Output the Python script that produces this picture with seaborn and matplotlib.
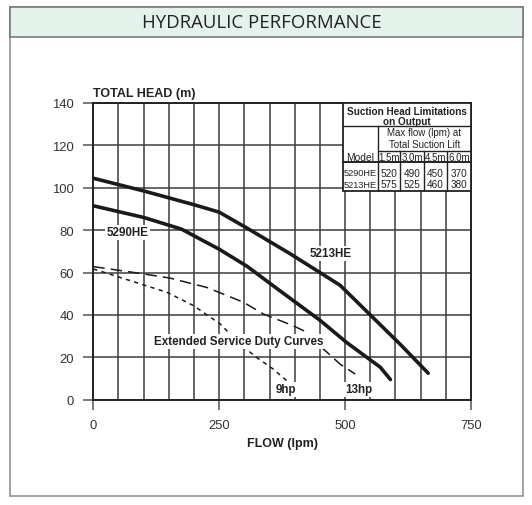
import numpy as np
import pandas as pd
import matplotlib
matplotlib.use("Agg")
import matplotlib.pyplot as plt
import seaborn as sns
from matplotlib.patches import Rectangle
from matplotlib.lines import Line2D
from matplotlib.ticker import MultipleLocator

# pump curves (flow lpm, head m)
flow_5213 = [0, 100, 200, 250, 305, 390, 450, 490, 550, 610, 665]
head_5213 = [104.5, 98.5, 92, 88.5, 81, 69, 60, 54, 40, 26, 12.5]

flow_5290 = [0, 100, 175, 250, 305, 370, 450, 503, 570, 590]
head_5290 = [91.5, 86, 80.5, 71, 63, 51.5, 37.5, 27, 15.3, 9.5]

flow_13hp = [0, 93, 152, 225, 298, 338, 397, 424, 457, 490, 520]
head_13hp = [62.8, 59.6, 57.4, 53, 46, 40.4, 34.9, 31.8, 23.9, 16.8, 12.1]

flow_9hp = [0, 73, 146, 199, 252, 291, 324, 357, 384]
head_9hp = [61.7, 56.2, 50.7, 44.4, 35.7, 26.3, 20, 14.5, 9]

x_ticks = [0, 250, 500, 750]
y_ticks = [0, 20, 40, 60, 80, 100, 120, 140]

# suction head table
table_models = ['5290HE', '5213HE']
table_lifts = ['1.5m', '3.0m', '4.5m', '6.0m']
table_flows = [[520, 490, 450, 370],
               [575, 525, 460, 380]]

W, H = 532, 506


def px(x, y):
    return x / W, 1 - y / H


sns.set_theme(style="white")
plt.rcParams['font.family'] = ['Liberation Sans', 'DejaVu Sans']

fig = plt.figure(figsize=(W / 100, H / 100), dpi=100)
fig.patch.set_facecolor('white')

# outer box and title band
fig.add_artist(Rectangle(px(10, 497), 513 / W, 489 / H, transform=fig.transFigure,
                         fill=False, ec='#8a8a8a', lw=1.1, zorder=0))
fig.add_artist(Rectangle(px(10, 38), 513 / W, 30 / H, transform=fig.transFigure,
                         fc='#e4f2ec', ec='#707070', lw=1.1, zorder=0))
fig.text(*px(262, 23), 'HYDRAULIC PERFORMANCE', ha='center', va='center',
         fontsize=13.4, family='Open Sans', color='#222222')

left, right, top, bottom = 93.3, 471, 104, 400.7
ax = fig.add_axes([left / W, 1 - bottom / H, (right - left) / W, (bottom - top) / H])

line_col = '#1a1a1a'
sns.lineplot(x=flow_5213, y=head_5213, ax=ax, color=line_col, lw=2.6, zorder=3)
sns.lineplot(x=flow_5290, y=head_5290, ax=ax, color=line_col, lw=2.6, zorder=3)
sns.lineplot(x=flow_13hp, y=head_13hp, ax=ax, color=line_col, lw=1.1,
             linestyle=(0, (7.5, 4)), zorder=3)
sns.lineplot(x=flow_9hp, y=head_9hp, ax=ax, color=line_col, lw=1.1,
             linestyle=(0, (2.8, 2.8)), zorder=3)

ax.set_xlim(0, 750)
ax.set_ylim(0, 140)
ax.xaxis.set_minor_locator(MultipleLocator(50))
ax.set_xticks(x_ticks)
ax.set_yticks(y_ticks)
ax.grid(True, which='both', color='#3c3c3c', lw=1.1)
ax.set_axisbelow(True)
ax.tick_params(which='major', length=7, width=1.1, color='#555555', pad=7,
               labelsize=9.4, labelcolor='#333333', left=True, bottom=True)
ax.tick_params(which='minor', length=0)
for s in ax.spines.values():
    s.set_color('#222222')
    s.set_linewidth(1.4)

lab = dict(fontsize=8.4, fontweight='bold', color='#222222', ha='center', va='center', zorder=4,
           bbox=dict(facecolor='white', edgecolor='none', pad=1.0))
ax.text(68, 79, '5290HE', **lab)
ax.text(472, 69, '5213HE', **lab)
ax.text(288, 27.6, 'Extended Service Duty Curves', **lab)
ax.text(383, 5, '9hp', **lab)
ax.text(528, 5, '13hp', **lab)

ax.text(0, 1 + (top - 94.3) / (bottom - top), 'TOTAL HEAD (m)', transform=ax.transAxes,
        ha='left', va='center', fontsize=9, fontweight='bold', color='#222222')
ax.set_xlabel('FLOW (lpm)', fontsize=9, fontweight='bold', color='#222222', labelpad=4)

# table in the top right corner
tl, tr, tt, tb = 343.3, 471, 104, 192
fig.add_artist(Rectangle(px(tl, tb), (tr - tl) / W, (tb - tt) / H, transform=fig.transFigure,
                         fc='white', ec='#222222', lw=1.3, zorder=5))
cols = [377.7, 400, 424.3, 446.7, 471]


def hline(y, x0, x1, lw=1.0):
    a, b = px(x0, y)
    c, d = px(x1, y)
    fig.add_artist(Line2D([a, c], [b, d], transform=fig.transFigure, color='#222222', lw=lw, zorder=6))


def vline(x, y0, y1, lw=1.0):
    a, b = px(x, y0)
    c, d = px(x, y1)
    fig.add_artist(Line2D([a, c], [b, d], transform=fig.transFigure, color='#222222', lw=lw, zorder=6))


hline(127.3, tl, tr)
hline(152.3, cols[0], tr)
hline(163.3, tl, tr, lw=1.4)
vline(cols[0], 127.3, tb)
for c in cols[1:4]:
    vline(c, 152.3, tb)

tt_kw = dict(ha='center', va='center', color='#222222', zorder=7)
fig.text(*px((tl + tr) / 2, 112), 'Suction Head Limitations', fontsize=7.2, fontweight='bold', **tt_kw)
fig.text(*px((tl + tr) / 2, 122), 'on Output', fontsize=7.2, fontweight='bold', **tt_kw)
fig.text(*px((cols[0] + tr) / 2, 133), 'Max flow (lpm) at', fontsize=7, **tt_kw)
fig.text(*px((cols[0] + tr) / 2, 144.7), 'Total Suction Lift', fontsize=7, **tt_kw)
fig.text(*px((tl + cols[0]) / 2, 158.3), 'Model', fontsize=7.4, **tt_kw)
for i, lift in enumerate(table_lifts):
    fig.text(*px((cols[i] + cols[i + 1]) / 2, 158.3), lift, fontsize=7, **tt_kw)
for r, model in enumerate(table_models):
    yy = 174 + r * 11.3
    fig.text(*px((tl + cols[0]) / 2, yy), model, fontsize=6.6, **tt_kw)
    for i, v in enumerate(table_flows[r]):
        fig.text(*px((cols[i] + cols[i + 1]) / 2, yy), str(v), fontsize=7.2, **tt_kw)

fig.savefig('out.png', dpi=100)
